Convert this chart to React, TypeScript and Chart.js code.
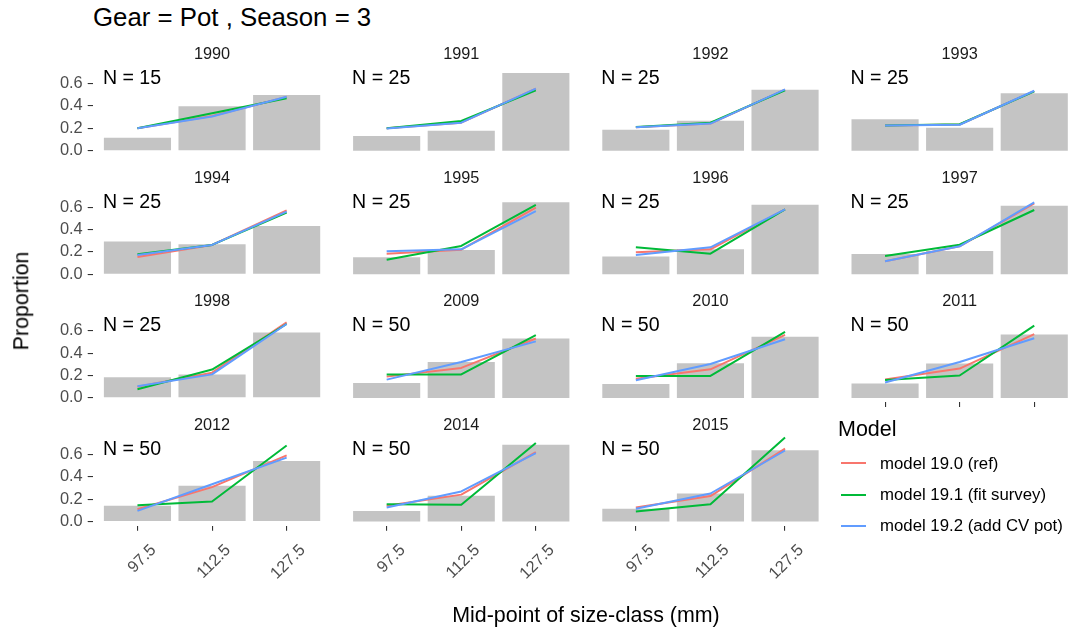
import React, { useEffect, useRef } from 'react';
import { Chart, registerables } from 'chart.js';
Chart.register(...registerables);

// ---------- data ----------
const years = ['1990', '1991', '1992', '1993', '1994', '1995', '1996', '1997', '1998', '2009', '2010', '2011', '2012', '2014', '2015'];
const sampleSizes = [15, 25, 25, 25, 25, 25, 25, 25, 25, 50, 50, 50, 50, 50, 50];
const sizeClasses = ['97.5', '112.5', '127.5'];
const yTicks = [0, 0.2, 0.4, 0.6];
const modelNames = ['model 19.0 (ref)', 'model 19.1 (fit survey)', 'model 19.2 (add CV pot)'];
const modelColors = ['#F8766D', '#00BA38', '#619CFF'];

// observed proportions (bars)
const observed = [
  [0.116, 0.396, 0.497],
  [0.131, 0.179, 0.694],
  [0.188, 0.268, 0.545],
  [0.28, 0.205, 0.514],
  [0.292, 0.268, 0.431],
  [0.152, 0.217, 0.643],
  [0.16, 0.223, 0.62],
  [0.181, 0.208, 0.613],
  [0.185, 0.21, 0.585],
  [0.134, 0.32, 0.53],
  [0.125, 0.31, 0.547],
  [0.128, 0.307, 0.566],
  [0.14, 0.32, 0.54],
  [0.093, 0.23, 0.685],
  [0.113, 0.25, 0.637],
];

// model 19.0 (ref)
const model190 = [
  [0.2, 0.31, 0.48],
  [0.2, 0.25, 0.553],
  [0.21, 0.242, 0.545],
  [0.226, 0.234, 0.532],
  [0.155, 0.262, 0.571],
  [0.184, 0.22, 0.595],
  [0.196, 0.223, 0.58],
  [0.116, 0.25, 0.634],
  [0.1, 0.225, 0.675],
  [0.19, 0.268, 0.53],
  [0.17, 0.255, 0.563],
  [0.164, 0.262, 0.57],
  [0.11, 0.307, 0.59],
  [0.14, 0.24, 0.62],
  [0.125, 0.227, 0.65],
];

// model 19.1 (fit survey)
const model191 = [
  [0.2, 0.334, 0.468],
  [0.2, 0.265, 0.539],
  [0.212, 0.25, 0.54],
  [0.226, 0.236, 0.53],
  [0.178, 0.262, 0.551],
  [0.13, 0.253, 0.619],
  [0.241, 0.184, 0.58],
  [0.163, 0.264, 0.574],
  [0.077, 0.253, 0.66],
  [0.21, 0.21, 0.56],
  [0.196, 0.196, 0.59],
  [0.16, 0.2, 0.646],
  [0.146, 0.178, 0.678],
  [0.155, 0.149, 0.7],
  [0.09, 0.155, 0.75],
];

// model 19.2 (add CV pot)
const model192 = [
  [0.2, 0.305, 0.482],
  [0.198, 0.25, 0.555],
  [0.21, 0.242, 0.547],
  [0.226, 0.232, 0.535],
  [0.172, 0.262, 0.56],
  [0.205, 0.223, 0.565],
  [0.172, 0.241, 0.58],
  [0.116, 0.25, 0.643],
  [0.105, 0.21, 0.66],
  [0.163, 0.32, 0.505],
  [0.157, 0.303, 0.523],
  [0.137, 0.32, 0.533],
  [0.095, 0.333, 0.57],
  [0.125, 0.268, 0.61],
  [0.113, 0.25, 0.634],
];

// ---------- layout ----------
const FONT = '"Liberation Sans", Arial, Helvetica, sans-serif';
const COL_X0 = 92.7;
const COL_STEP = 249.2;
const PANEL_W = 238.7;
const ROW_Y0 = 62.5;
const ROW_STEP = 123.6;
const PANEL_H = 92.4;
const PAD_L = 60;
const PAD_T = 30;
const PAD_R = 8;
const PAD_B = 80;

const Y_MIN = -0.0375;
const Y_MAX = 0.7875;

Chart.defaults.font.family = FONT;

const panelTextPlugin = {
  id: 'panelText',
  afterDatasetsDraw(chart: any, _args: any, opts: any) {
    const { ctx, chartArea, scales } = chart;
    ctx.save();
    ctx.font = `16.3px ${FONT}`;
    ctx.fillStyle = '#1A1A1A';
    ctx.textAlign = 'center';
    ctx.textBaseline = 'alphabetic';
    ctx.fillText(opts.strip, (chartArea.left + chartArea.right) / 2, chartArea.top - 3.5);
    ctx.font = `19.6px ${FONT}`;
    ctx.fillStyle = '#000000';
    ctx.textAlign = 'left';
    ctx.fillText(opts.n, scales.x.getPixelForValue(0.55) - 1, chartArea.top + 21.5);
    ctx.restore();
  },
};

const toXY = (arr: number[]) => arr.map((v, i) => ({ x: i + 1, y: v }));

function Panel({ idx }: { idx: number }) {
  const ref = useRef<HTMLCanvasElement | null>(null);
  const row = Math.floor(idx / 4);
  const col = idx % 4;
  const left = COL_X0 + col * COL_STEP;
  const top = ROW_Y0 + row * ROW_STEP;
  const cLeft = Math.floor(left - PAD_L);
  const cTop = Math.floor(top - PAD_T);
  const padLeft = left - cLeft;
  const padTop = top - cTop;
  const width = Math.ceil(padLeft + PANEL_W + PAD_R);
  const height = Math.ceil(padTop + PANEL_H + PAD_B);
  const padRight = width - padLeft - PANEL_W;
  const padBottom = height - padTop - PANEL_H;
  const showY = col === 0;
  const showXLabels = row === 3;
  const showXTicks = row === 3 || idx === 11;

  useEffect(() => {
    if (!ref.current) return;
    const lineDs = (data: number[], color: string, label: string, order: number) => ({
      type: 'line' as const,
      label,
      data: toXY(data),
      borderColor: color,
      backgroundColor: color,
      borderWidth: 2,
      pointRadius: 0,
      borderJoinStyle: 'round' as const,
      borderCapStyle: 'butt' as const,
      tension: 0,
      order,
    });
    const chart = new Chart(ref.current, {
      type: 'bar',
      data: {
        datasets: [
          {
            type: 'bar',
            label: 'observed',
            data: toXY(observed[idx]),
            backgroundColor: '#C4C4C4',
            borderWidth: 0,
            barPercentage: 0.9,
            categoryPercentage: 1,
            order: 4,
          } as any,
          lineDs(model190[idx], modelColors[0], modelNames[0], 3),
          lineDs(model191[idx], modelColors[1], modelNames[1], 2),
          lineDs(model192[idx], modelColors[2], modelNames[2], 1),
        ],
      },
      options: {
        responsive: false,
        animation: false,
        devicePixelRatio: 1,
        layout: {
          padding: {
            left: showY ? 0 : padLeft,
            top: padTop,
            right: padRight,
            bottom: showXTicks ? 0 : padBottom,
          },
        },
        plugins: {
          legend: { display: false },
          tooltip: { enabled: false },
          title: { display: false },
          panelText: { strip: years[idx], n: `N = ${sampleSizes[idx]}` },
        } as any,
        scales: {
          x: {
            type: 'linear',
            min: 0.4,
            max: 3.6,
            offset: false,
            display: showXTicks,
            border: { display: false },
            grid: {
              display: true,
              offset: false,
              drawOnChartArea: false,
              drawTicks: true,
              tickLength: 5,
              color: '#333333',
              lineWidth: 1.1,
            },
            afterBuildTicks: (s: any) => {
              s.ticks = sizeClasses.map((_, i) => ({ value: i + 1 }));
            },
            afterFit: (s: any) => {
              if (showXTicks) s.height = padBottom;
            },
            ticks: {
              display: showXLabels,
              autoSkip: false,
              minRotation: 45,
              maxRotation: 45,
              padding: 10,
              labelOffset: 16,
              color: '#4D4D4D',
              font: { size: 16.4, family: FONT },
              callback: (_v: any, i: number) => sizeClasses[i],
            },
          },
          y: {
            type: 'linear',
            min: Y_MIN,
            max: Y_MAX,
            display: showY,
            border: { display: false },
            grid: {
              display: true,
              drawOnChartArea: false,
              drawTicks: true,
              tickLength: 5,
              color: '#333333',
              lineWidth: 1.1,
            },
            afterBuildTicks: (s: any) => {
              s.ticks = yTicks.map((v) => ({ value: v }));
            },
            afterFit: (s: any) => {
              if (showY) s.width = padLeft;
            },
            ticks: {
              padding: 5,
              color: '#4D4D4D',
              font: { size: 16.4, family: FONT },
              callback: (v: any) => Number(v).toFixed(1),
            },
          },
        },
      } as any,
      plugins: [panelTextPlugin],
    });
    return () => chart.destroy();
  }, [idx]);

  return (
    <canvas
      ref={ref}
      width={width}
      height={height}
      style={{ position: 'absolute', left: cLeft, top: cTop, width, height }}
    />
  );
}

function LegendBox() {
  const base: React.CSSProperties = { position: 'absolute', whiteSpace: 'nowrap', fontFamily: FONT, lineHeight: 1 };
  const keyY = [463.3, 494.5, 525.7];
  return (
    <>
      <div style={{ ...base, left: 838, top: 437 - 0.8465 * 21.5, fontSize: 21.5, color: '#000' }}>Model</div>
      {modelNames.map((name, i) => (
        <React.Fragment key={name}>
          <div
            style={{
              position: 'absolute',
              left: 841,
              top: keyY[i] - 1,
              width: 25,
              height: 2,
              background: modelColors[i],
            }}
          />
          <div style={{ ...base, left: 880, top: keyY[i] + 6.7 - 0.8465 * 16.8, fontSize: 16.8, color: '#000' }}>{name}</div>
        </React.Fragment>
      ))}
    </>
  );
}

export default function App() {
  const base: React.CSSProperties = { position: 'absolute', whiteSpace: 'nowrap', fontFamily: FONT, lineHeight: 1, color: '#000' };
  return (
    <div
      style={{
        position: 'absolute',
        left: 0,
        top: 0,
        width: 1068,
        height: 632,
        overflow: 'hidden',
        background: '#FFFFFF',
      }}
    >
      <div style={{ ...base, left: 93, top: 26.7 - 0.8465 * 25.8, fontSize: 25.8 }}>Gear = Pot , Season = 3</div>
      {years.map((_, i) => (
        <Panel key={i} idx={i} />
      ))}
      <LegendBox />
      <div
        style={{
          ...base,
          left: 586,
          top: 622.7 - 0.8465 * 21.4,
          fontSize: 21.4,
          transform: 'translateX(-50%)',
        }}
      >
        Mid-point of size-class (mm)
      </div>
      <div
        style={{
          ...base,
          left: 22,
          top: 301,
          fontSize: 21.4,
          transform: 'translate(-50%, -50%) rotate(-90deg)',
        }}
      >
        Proportion
      </div>
    </div>
  );
}
